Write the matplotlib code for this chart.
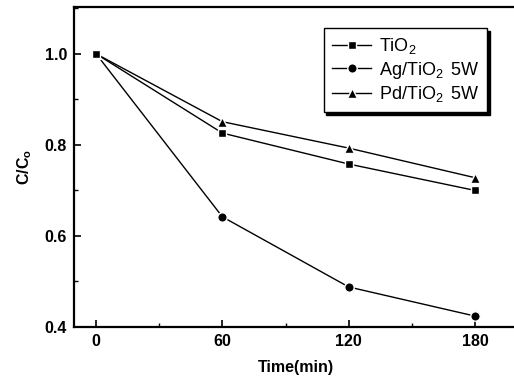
import matplotlib
matplotlib.use("Agg")
import matplotlib.pyplot as plt
from matplotlib.ticker import MultipleLocator

time_min = [0, 60, 120, 180]
tio2 = [1.0, 0.826, 0.758, 0.700]
ag_tio2 = [1.0, 0.642, 0.488, 0.424]
pd_tio2 = [1.0, 0.851, 0.793, 0.728]
labels = ["TiO$_2$", "Ag/TiO$_2\\,$ 5W", "Pd/TiO$_2\\,$ 5W"]

plt.rcParams['font.family'] = ['Liberation Sans', 'DejaVu Sans']
plt.rcParams['mathtext.fontset'] = 'custom'
plt.rcParams['mathtext.rm'] = 'Liberation Sans'
plt.rcParams['mathtext.bf'] = 'Liberation Sans:bold'

fig = plt.figure(figsize=(5.14, 3.81), dpi=100)
ax = fig.add_axes([0.144, 0.1417, 0.862, 0.84])

common = dict(color='black', lw=1, mec='white', mew=1.0, mfc='black')
ax.plot(time_min, tio2, marker='s', ms=6.0, label=labels[0], zorder=5, **common)
ax.plot(time_min, ag_tio2, marker='o', ms=6.8, label=labels[1], zorder=3, **common)
ax.plot(time_min, pd_tio2, marker='^', ms=7.6, label=labels[2], zorder=4, **common)

ax.set_xlim(-10.5, 200)
ax.set_ylim(0.4, 1.103)
ax.xaxis.set_major_locator(MultipleLocator(60))
ax.xaxis.set_minor_locator(MultipleLocator(30))
ax.yaxis.set_major_locator(MultipleLocator(0.2))
ax.yaxis.set_minor_locator(MultipleLocator(0.1))
ax.set_xticks([0, 60, 120, 180])
ax.set_xticklabels(['0', '60', '120', '180'])
ax.set_yticks([0.4, 0.6, 0.8, 1.0])
ax.set_yticklabels(['0.4', '0.6', '0.8', '1.0'])

ax.tick_params(which='major', direction='in', length=5, width=1.2, labelsize=11.5, pad=5)
ax.tick_params(which='minor', direction='in', length=3, width=1)
for lab in ax.get_xticklabels() + ax.get_yticklabels():
    lab.set_fontweight('bold')

for s in ['left', 'bottom', 'top']:
    ax.spines[s].set_linewidth(1.6)
ax.spines['right'].set_visible(False)

ax.set_xlabel('Time(min)', fontsize=11.5, fontweight='bold', labelpad=8)
ax.set_ylabel('C/C$_\\mathbf{o}$', fontsize=11.5, fontweight='bold', labelpad=8)

leg = ax.legend(loc='upper left', bbox_to_anchor=(0.543, 0.9625), fontsize=13,
                frameon=True, fancybox=False,
                shadow={'color': 'black', 'alpha': 1.0},
                handlelength=2.2, handletextpad=0.4, labelspacing=0.2,
                borderpad=0.45, edgecolor='black', framealpha=1)
leg.get_frame().set_linewidth(1.0)
leg.set_zorder(10)

fig.savefig('out.png', dpi=100)
